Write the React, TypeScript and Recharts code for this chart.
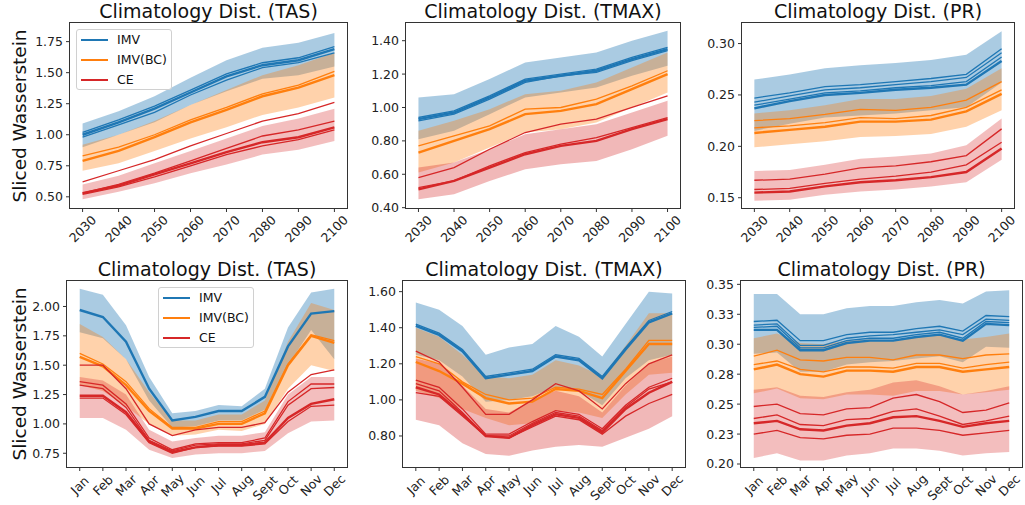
import { ComposedChart, Area, Line, XAxis, YAxis } from 'recharts';

const FONT = '"DejaVu Sans", sans-serif';
const BLUE = '#1f77b4';
const ORANGE = '#ff7f0e';
const RED = '#d62728';
const SERIES_NAMES = ['IMV', 'IMV(BC)', 'CE'];

const YEARS = ['2030', '2040', '2050', '2060', '2070', '2080', '2090', '2100'];
const MONTHS = ['Jan', 'Feb', 'Mar', 'Apr', 'May', 'Jun', 'Jul', 'Aug', 'Sept', 'Oct', 'Nov', 'Dec'];

// ---- TAS, yearly ----
const tasYearTicks = [0.5, 0.75, 1.0, 1.25, 1.5, 1.75];
const tasYearTickLabels = ['0.50', '0.75', '1.00', '1.25', '1.50', '1.75'];
const tasYearImv = [
  [1.0, 1.1, 1.21, 1.34, 1.47, 1.56, 1.6, 1.69],
  [1.02, 1.12, 1.23, 1.36, 1.49, 1.58, 1.62, 1.71],
  [0.98, 1.08, 1.18, 1.32, 1.44, 1.54, 1.58, 1.66],
];
const tasYearImvLow = [0.9, 1.0, 1.1, 1.24, 1.35, 1.45, 1.48, 1.55];
const tasYearImvHigh = [1.09, 1.19, 1.31, 1.46, 1.6, 1.7, 1.74, 1.82];
const tasYearBc = [
  [0.79, 0.87, 0.98, 1.1, 1.2, 1.31, 1.38, 1.48],
  [0.83, 0.9, 1.0, 1.12, 1.22, 1.33, 1.4, 1.51],
];
const tasYearBcLow = [0.71, 0.77, 0.87, 0.97, 1.06, 1.16, 1.22, 1.3];
const tasYearBcHigh = [0.92, 1.0, 1.11, 1.24, 1.36, 1.48, 1.56, 1.66];
const tasYearCe = [
  [0.53, 0.59, 0.68, 0.77, 0.86, 0.94, 0.98, 1.06],
  [0.52, 0.58, 0.66, 0.75, 0.84, 0.91, 0.96, 1.04],
  [0.53, 0.6, 0.69, 0.79, 0.89, 0.99, 1.04, 1.11],
  [0.62, 0.71, 0.8, 0.91, 1.01, 1.11, 1.17, 1.26],
];
const tasYearCeLow = [0.48, 0.54, 0.61, 0.69, 0.76, 0.84, 0.88, 0.95];
const tasYearCeHigh = [0.6, 0.67, 0.77, 0.87, 0.97, 1.07, 1.13, 1.21];

// ---- TMAX, yearly ----
const tmaxYearTicks = [0.4, 0.6, 0.8, 1.0, 1.2, 1.4];
const tmaxYearTickLabels = ['0.40', '0.60', '0.80', '1.00', '1.20', '1.40'];
const tmaxYearImv = [
  [0.93, 0.97, 1.06, 1.16, 1.19, 1.22, 1.29, 1.35],
  [0.94, 0.98, 1.07, 1.17, 1.2, 1.23, 1.3, 1.36],
  [0.92, 0.96, 1.05, 1.15, 1.19, 1.21, 1.28, 1.34],
];
const tmaxYearImvLow = [0.81, 0.86, 0.96, 1.06, 1.09, 1.12, 1.19, 1.25];
const tmaxYearImvHigh = [1.06, 1.08, 1.17, 1.27, 1.3, 1.33, 1.4, 1.46];
const tmaxYearBc = [
  [0.73, 0.8, 0.87, 0.96, 0.98, 1.02, 1.11, 1.2],
  [0.77, 0.83, 0.89, 0.99, 1.0, 1.05, 1.13, 1.22],
];
const tmaxYearBcLow = [0.61, 0.67, 0.76, 0.85, 0.87, 0.91, 1.0, 1.09];
const tmaxYearBcHigh = [0.86, 0.92, 0.99, 1.08, 1.1, 1.15, 1.24, 1.33];
const tmaxYearCe = [
  [0.51, 0.56, 0.64, 0.72, 0.77, 0.8, 0.87, 0.93],
  [0.52, 0.56, 0.65, 0.73, 0.78, 0.82, 0.88, 0.94],
  [0.58, 0.64, 0.75, 0.85, 0.9, 0.93, 1.0, 1.07],
];
const tmaxYearCeLow = [0.45, 0.48, 0.56, 0.63, 0.66, 0.68, 0.75, 0.83];
const tmaxYearCeHigh = [0.64, 0.67, 0.75, 0.84, 0.87, 0.9, 0.97, 1.04];

// ---- PR, yearly ----
const prYearTicks = [0.15, 0.2, 0.25, 0.3];
const prYearTickLabels = ['0.15', '0.20', '0.25', '0.30'];
const prYearImv = [
  [0.237, 0.244, 0.25, 0.252, 0.255, 0.257, 0.26, 0.283],
  [0.24, 0.246, 0.252, 0.254, 0.257, 0.259, 0.263, 0.287],
  [0.243, 0.249, 0.255, 0.257, 0.26, 0.263, 0.267, 0.291],
  [0.247, 0.252, 0.258, 0.26, 0.263, 0.266, 0.27, 0.295],
];
const prYearImvLow = [0.215, 0.222, 0.228, 0.23, 0.232, 0.235, 0.238, 0.262];
const prYearImvHigh = [0.265, 0.27, 0.276, 0.279, 0.281, 0.284, 0.289, 0.312];
const prYearBc = [
  [0.213, 0.216, 0.219, 0.224, 0.224, 0.226, 0.234, 0.251],
  [0.218, 0.22, 0.223, 0.228, 0.227, 0.23, 0.238, 0.255],
  [0.225, 0.227, 0.231, 0.236, 0.235, 0.238, 0.245, 0.263],
];
const prYearBcLow = [0.199, 0.202, 0.205, 0.209, 0.21, 0.212, 0.219, 0.235];
const prYearBcHigh = [0.232, 0.235, 0.24, 0.246, 0.246, 0.249, 0.256, 0.276];
const prYearCe = [
  [0.155, 0.156, 0.161, 0.165, 0.167, 0.17, 0.175, 0.198],
  [0.158, 0.159, 0.164, 0.168, 0.171, 0.175, 0.182, 0.204],
  [0.167, 0.168, 0.173, 0.179, 0.181, 0.185, 0.191, 0.217],
];
const prYearCeLow = [0.147, 0.148, 0.153, 0.156, 0.158, 0.161, 0.165, 0.187];
const prYearCeHigh = [0.176, 0.177, 0.182, 0.188, 0.19, 0.193, 0.201, 0.227];

// ---- TAS, monthly ----
const tasMonthTicks = [0.75, 1.0, 1.25, 1.5, 1.75, 2.0];
const tasMonthTickLabels = ['0.75', '1.00', '1.25', '1.50', '1.75', '2.00'];
const tasMonthImv = [
  [1.97, 1.91, 1.7, 1.3, 1.03, 1.06, 1.11, 1.11, 1.23, 1.66, 1.94, 1.96],
];
const tasMonthImvLow = [1.78, 1.73, 1.55, 1.2, 0.97, 0.98, 1.03, 1.03, 1.12, 1.5, 1.8, 1.55];
const tasMonthImvHigh = [2.15, 2.1, 1.84, 1.4, 1.09, 1.11, 1.16, 1.15, 1.3, 1.82, 2.12, 2.15];
const tasMonthBc = [
  [1.57, 1.49, 1.33, 1.11, 0.96, 0.96, 1.0, 1.0, 1.09, 1.5, 1.75, 1.69],
  [1.6, 1.51, 1.36, 1.13, 0.97, 0.97, 1.02, 1.02, 1.11, 1.51, 1.76, 1.71],
];
const tasMonthBcLow = [1.33, 1.28, 1.15, 1.0, 0.9, 0.91, 0.95, 0.94, 1.0, 1.3, 1.5, 1.45];
const tasMonthBcHigh = [1.85, 1.74, 1.55, 1.27, 1.03, 1.03, 1.08, 1.08, 1.2, 1.7, 2.03, 1.97];
const tasMonthCe = [
  [1.24, 1.24, 1.1, 0.85, 0.76, 0.8, 0.82, 0.82, 0.84, 1.05, 1.17, 1.21],
  [1.22, 1.22, 1.08, 0.84, 0.75, 0.8, 0.81, 0.81, 0.83, 1.02, 1.15, 1.16],
  [1.33, 1.3, 1.14, 0.86, 0.77, 0.82, 0.83, 0.83, 0.86, 1.16, 1.3, 1.31],
  [1.36, 1.33, 1.17, 0.88, 0.78, 0.83, 0.84, 0.84, 0.88, 1.19, 1.34, 1.34],
  [1.5, 1.5, 1.3, 1.0, 0.9, 0.95, 0.97, 0.97, 1.01, 1.27, 1.42, 1.46],
];
const tasMonthCeLow = [1.05, 1.05, 0.95, 0.78, 0.71, 0.74, 0.75, 0.75, 0.77, 0.92, 1.02, 1.03];
const tasMonthCeHigh = [1.4, 1.37, 1.25, 0.95, 0.85, 0.88, 0.9, 0.9, 0.93, 1.25, 1.4, 1.4];

// ---- TMAX, monthly ----
const tmaxMonthTicks = [0.8, 1.0, 1.2, 1.4, 1.6];
const tmaxMonthTickLabels = ['0.80', '1.00', '1.20', '1.40', '1.60'];
const tmaxMonthImv = [
  [1.41, 1.36, 1.27, 1.12, 1.14, 1.16, 1.24, 1.22, 1.12, 1.28, 1.43, 1.48],
  [1.42, 1.37, 1.28, 1.13, 1.15, 1.17, 1.25, 1.23, 1.13, 1.29, 1.44, 1.49],
];
const tmaxMonthImvLow = [1.25, 1.22, 1.13, 0.99, 1.0, 1.02, 1.07, 1.05, 0.97, 1.12, 1.22, 1.25];
const tmaxMonthImvHigh = [1.54, 1.5, 1.41, 1.25, 1.29, 1.31, 1.41, 1.35, 1.24, 1.42, 1.6, 1.59];
const tmaxMonthBc = [
  [1.21, 1.16, 1.09, 1.01, 0.98, 0.99, 1.06, 1.05, 1.01, 1.16, 1.31, 1.31],
  [1.24, 1.2, 1.1, 1.03, 1.0, 1.01, 1.07, 1.06, 1.03, 1.17, 1.33, 1.33],
];
const tmaxMonthBcLow = [1.05, 1.01, 0.95, 0.9, 0.86, 0.87, 0.94, 0.93, 0.9, 1.03, 1.14, 1.15];
const tmaxMonthBcHigh = [1.4, 1.35, 1.25, 1.13, 1.12, 1.14, 1.22, 1.19, 1.13, 1.3, 1.48, 1.48];
const tmaxMonthCe = [
  [1.07, 1.03, 0.92, 0.8, 0.79, 0.86, 0.92, 0.9, 0.82, 0.95, 1.04, 1.1],
  [1.04, 1.02, 0.91, 0.8, 0.79, 0.85, 0.91, 0.89, 0.81, 0.91, 0.98, 1.03],
  [1.09, 1.05, 0.93, 0.8, 0.8, 0.87, 0.93, 0.91, 0.83, 0.96, 1.06, 1.1],
  [1.11, 1.07, 0.95, 0.81, 0.81, 0.88, 0.94, 0.92, 0.84, 0.97, 1.07, 1.12],
  [1.27, 1.21, 1.07, 0.92, 0.92, 1.0, 1.09, 1.05, 0.95, 1.09, 1.2, 1.25],
];
const tmaxMonthCeLow = [0.89, 0.86, 0.76, 0.7, 0.69, 0.72, 0.74, 0.75, 0.74, 0.79, 0.84, 0.91];
const tmaxMonthCeHigh = [1.23, 1.2, 1.08, 0.95, 0.93, 1.0, 1.05, 1.02, 0.93, 1.08, 1.2, 1.24];

// ---- PR, monthly ----
const prMonthTicks = [0.2, 0.225, 0.25, 0.275, 0.3, 0.325, 0.35];
const prMonthTickLabels = ['0.20', '0.23', '0.25', '0.28', '0.30', '0.33', '0.35'];
const prMonthImv = [
  [0.312, 0.312, 0.295, 0.295, 0.301, 0.303, 0.303, 0.306, 0.308, 0.303, 0.317, 0.316],
  [0.314, 0.315, 0.297, 0.297, 0.303, 0.305, 0.305, 0.308, 0.31, 0.305, 0.319, 0.318],
  [0.316, 0.317, 0.299, 0.299, 0.305, 0.307, 0.308, 0.31, 0.312, 0.308, 0.321, 0.32],
  [0.319, 0.32, 0.303, 0.303, 0.308, 0.31, 0.31, 0.313, 0.315, 0.311, 0.324, 0.323],
];
const prMonthImvLow = [0.292, 0.293, 0.277, 0.277, 0.283, 0.285, 0.286, 0.288, 0.29, 0.285, 0.298, 0.297];
const prMonthImvHigh = [0.342, 0.342, 0.325, 0.325, 0.33, 0.332, 0.332, 0.335, 0.337, 0.334, 0.344, 0.345];
const prMonthBc = [
  [0.279, 0.283, 0.275, 0.273, 0.278, 0.278, 0.277, 0.281, 0.281, 0.277, 0.279, 0.281],
  [0.283, 0.286, 0.279, 0.277, 0.281, 0.281, 0.28, 0.284, 0.284, 0.28, 0.283, 0.285],
  [0.29, 0.295, 0.287, 0.286, 0.289, 0.289, 0.287, 0.291, 0.291, 0.288, 0.291, 0.292],
];
const prMonthBcLow = [0.259, 0.263, 0.255, 0.254, 0.258, 0.258, 0.257, 0.261, 0.261, 0.258, 0.26, 0.262];
const prMonthBcHigh = [0.305, 0.309, 0.301, 0.3, 0.303, 0.304, 0.303, 0.306, 0.307, 0.304, 0.306, 0.309];
const prMonthCe = [
  [0.234, 0.236, 0.229, 0.228, 0.232, 0.234, 0.239, 0.24, 0.236, 0.231, 0.234, 0.236],
  [0.225, 0.228, 0.222, 0.221, 0.224, 0.225, 0.23, 0.23, 0.228, 0.224, 0.226, 0.228],
  [0.238, 0.241, 0.233, 0.232, 0.237, 0.238, 0.244, 0.246, 0.24, 0.233, 0.236, 0.24],
  [0.248, 0.25, 0.242, 0.241, 0.246, 0.247, 0.255, 0.258, 0.252, 0.243, 0.245, 0.251],
];
const prMonthCeLow = [0.205, 0.209, 0.203, 0.203, 0.207, 0.209, 0.213, 0.213, 0.211, 0.207, 0.209, 0.21];
const prMonthCeHigh = [0.262, 0.264, 0.257, 0.256, 0.26, 0.262, 0.268, 0.27, 0.265, 0.258, 0.261, 0.265];

type Group = { color: string; lines: number[][]; low: number[]; high: number[]; opacity: number };
type Box = { left: number; top: number; w: number; h: number };

interface PanelSpec {
  title: string;
  labels: string[];
  ticks: number[];
  tickLabels: string[];
  domain: [number, number];
  groups: Group[];
  box: Box;
  yLabel?: boolean;
  legend?: { left: number; top: number };
}

const grp = (color: string, lines: number[][], low: number[], high: number[], opacity = 0.35): Group => ({
  color,
  lines,
  low,
  high,
  opacity,
});

const panels: PanelSpec[] = [
  {
    title: 'Climatology Dist. (TAS)',
    labels: YEARS,
    ticks: tasYearTicks,
    tickLabels: tasYearTickLabels,
    domain: [0.41, 1.9],
    groups: [
      grp(BLUE, tasYearImv, tasYearImvLow, tasYearImvHigh, 0.38),
      grp(ORANGE, tasYearBc, tasYearBcLow, tasYearBcHigh),
      grp(RED, tasYearCe, tasYearCeLow, tasYearCeHigh, 0.3),
    ],
    box: { left: 70, top: 23, w: 277, h: 185 },
    yLabel: true,
    legend: { left: 76, top: 29 },
  },
  {
    title: 'Climatology Dist. (TMAX)',
    labels: YEARS,
    ticks: tmaxYearTicks,
    tickLabels: tmaxYearTickLabels,
    domain: [0.398, 1.506],
    groups: [
      grp(BLUE, tmaxYearImv, tmaxYearImvLow, tmaxYearImvHigh, 0.38),
      grp(ORANGE, tmaxYearBc, tmaxYearBcLow, tmaxYearBcHigh),
      grp(RED, tmaxYearCe, tmaxYearCeLow, tmaxYearCeHigh, 0.33),
    ],
    box: { left: 406, top: 23, w: 274, h: 185 },
  },
  {
    title: 'Climatology Dist. (PR)',
    labels: YEARS,
    ticks: prYearTicks,
    tickLabels: prYearTickLabels,
    domain: [0.14, 0.32],
    groups: [
      grp(BLUE, prYearImv, prYearImvLow, prYearImvHigh, 0.38),
      grp(ORANGE, prYearBc, prYearBcLow, prYearBcHigh),
      grp(RED, prYearCe, prYearCeLow, prYearCeHigh, 0.3),
    ],
    box: { left: 742, top: 23, w: 272, h: 185 },
  },
  {
    title: 'Climatology Dist. (TAS)',
    labels: MONTHS,
    ticks: tasMonthTicks,
    tickLabels: tasMonthTickLabels,
    domain: [0.633, 2.217],
    groups: [
      grp(BLUE, tasMonthImv, tasMonthImvLow, tasMonthImvHigh, 0.38),
      grp(ORANGE, tasMonthBc, tasMonthBcLow, tasMonthBcHigh),
      grp(RED, tasMonthCe, tasMonthCeLow, tasMonthCeHigh, 0.3),
    ],
    box: { left: 67, top: 281, w: 280, h: 186 },
    yLabel: true,
    legend: { left: 158, top: 287 },
  },
  {
    title: 'Climatology Dist. (TMAX)',
    labels: MONTHS,
    ticks: tmaxMonthTicks,
    tickLabels: tmaxMonthTickLabels,
    domain: [0.628, 1.659],
    groups: [
      grp(BLUE, tmaxMonthImv, tmaxMonthImvLow, tmaxMonthImvHigh, 0.38),
      grp(ORANGE, tmaxMonthBc, tmaxMonthBcLow, tmaxMonthBcHigh),
      grp(RED, tmaxMonthCe, tmaxMonthCeLow, tmaxMonthCeHigh, 0.33),
    ],
    box: { left: 403, top: 281, w: 282, h: 186 },
  },
  {
    title: 'Climatology Dist. (PR)',
    labels: MONTHS,
    ticks: prMonthTicks,
    tickLabels: prMonthTickLabels,
    domain: [0.1975, 0.3528],
    groups: [
      grp(BLUE, prMonthImv, prMonthImvLow, prMonthImvHigh, 0.38),
      grp(ORANGE, prMonthBc, prMonthBcLow, prMonthBcHigh),
      grp(RED, prMonthCe, prMonthCeLow, prMonthCeHigh, 0.3),
    ],
    box: { left: 741, top: 281, w: 281, h: 186 },
  },
];

function buildRows(labels: string[], groups: Group[]) {
  return labels.map((_, i) => {
    const row: Record<string, number | number[]> = { x: i };
    groups.forEach((g, gi) => {
      row[`band${gi}`] = [g.low[i], g.high[i]];
      g.lines.forEach((l, li) => {
        row[`l${gi}_${li}`] = l[i];
      });
    });
    return row;
  });
}

// rotated (45deg) tick label, centred under the tick like matplotlib
function SlantTick(props: any) {
  const { x, y, payload, labels } = props;
  const label: string = labels[payload.value] ?? '';
  const fs = 12.5;
  const w = label.length * fs * 0.62;
  const half = ((w + 14) * 0.7071) / 2;
  return (
    <g transform={`translate(${x},${y + half - 1})`}>
      <text
        transform="rotate(-45)"
        textAnchor="middle"
        dominantBaseline="central"
        fontSize={fs}
        fontFamily={FONT}
        fill="#222"
      >
        {label}
      </text>
    </g>
  );
}

const Y_AXIS_W = 60;
const TOP_PAD = 5;
const RIGHT_PAD = 10;
const X_AXIS_H = 55;

function Panel({ spec }: { spec: PanelSpec }) {
  const { box, labels, groups } = spec;
  const rows = buildRows(labels, groups);
  const n = labels.length;
  const pad = (n - 1) * 0.05;
  const idx = labels.map((_, i) => i);

  return (
    <>
      <div
        style={{
          position: 'absolute',
          left: box.left - 20,
          top: box.top - 22,
          width: box.w + 40,
          textAlign: 'center',
          fontSize: 19,
          lineHeight: '21px',
          fontFamily: FONT,
          color: '#111',
          whiteSpace: 'nowrap',
        }}
      >
        {spec.title}
      </div>
      {spec.yLabel && (
        <div
          style={{
            position: 'absolute',
            left: 19,
            top: box.top + box.h / 2,
            transform: 'translate(-50%, -50%) rotate(-90deg)',
            fontSize: 18.5,
            fontFamily: FONT,
            color: '#111',
            whiteSpace: 'nowrap',
          }}
        >
          Sliced Wasserstein
        </div>
      )}
      <div style={{ position: 'absolute', left: box.left - Y_AXIS_W, top: box.top - TOP_PAD }}>
        <ComposedChart
          width={Y_AXIS_W + box.w + RIGHT_PAD}
          height={TOP_PAD + box.h + X_AXIS_H}
          data={rows}
          margin={{ top: TOP_PAD, right: RIGHT_PAD, bottom: 0, left: 0 }}
        >
          <XAxis
            dataKey="x"
            type="number"
            domain={[-pad, n - 1 + pad]}
            ticks={idx}
            interval={0}
            height={X_AXIS_H}
            tickSize={4}
            axisLine={false}
            tickLine={{ stroke: '#333' }}
            tick={<SlantTick labels={labels} />}
          />
          <YAxis
            type="number"
            domain={spec.domain}
            allowDataOverflow
            ticks={spec.ticks}
            interval={0}
            width={Y_AXIS_W}
            tickSize={4}
            tickMargin={3}
            axisLine={false}
            tickLine={{ stroke: '#333' }}
            tick={{ fill: '#222', fontSize: 12.5, fontFamily: FONT }}
            tickFormatter={(v: number) => spec.tickLabels[spec.ticks.indexOf(v)] ?? String(v)}
          />
          {groups.map((g, gi) => (
            <Area
              key={`band${gi}`}
              dataKey={`band${gi}`}
              type="linear"
              stroke="none"
              fill={g.color}
              fillOpacity={g.opacity}
              isAnimationActive={false}
              dot={false}
              activeDot={false}
            />
          ))}
          {groups.map((g, gi) =>
            g.lines.map((_, li) => (
              <Line
                key={`l${gi}_${li}`}
                dataKey={`l${gi}_${li}`}
                type="linear"
                stroke={g.color}
                strokeWidth={li === 0 ? 2.4 : 1.3}
                dot={false}
                activeDot={false}
                isAnimationActive={false}
              />
            )),
          )}
        </ComposedChart>
      </div>
      <div
        style={{
          position: 'absolute',
          left: box.left - 1,
          top: box.top - 1,
          width: box.w,
          height: box.h,
          border: '1px solid #333',
          pointerEvents: 'none',
        }}
      />
      {spec.legend && (
        <div
          style={{
            position: 'absolute',
            left: spec.legend.left,
            top: spec.legend.top,
            width: 96,
            height: 61,
            border: '1px solid #d0d0d0',
            borderRadius: 3,
            background: 'rgba(255,255,255,0.8)',
            boxSizing: 'border-box',
          }}
        >
          {SERIES_NAMES.map((name, i) => (
            <div
              key={name}
              style={{ position: 'absolute', left: 0, top: 10 + i * 20, height: 0 }}
            >
              <div
                style={{
                  position: 'absolute',
                  left: 4,
                  top: -1,
                  width: 27,
                  height: 2,
                  background: groups[i].color,
                }}
              />
              <div
                style={{
                  position: 'absolute',
                  left: 40,
                  top: -8,
                  fontSize: 12.5,
                  lineHeight: '16px',
                  fontFamily: FONT,
                  color: '#111',
                  whiteSpace: 'nowrap',
                }}
              >
                {name}
              </div>
            </div>
          ))}
        </div>
      )}
    </>
  );
}

export default function App() {
  return (
    <div
      style={{
        position: 'absolute',
        left: 0,
        top: 0,
        width: 1025,
        height: 505,
        background: '#fff',
        overflow: 'hidden',
      }}
    >
      {panels.map((p, i) => (
        <Panel key={i} spec={p} />
      ))}
    </div>
  );
}
